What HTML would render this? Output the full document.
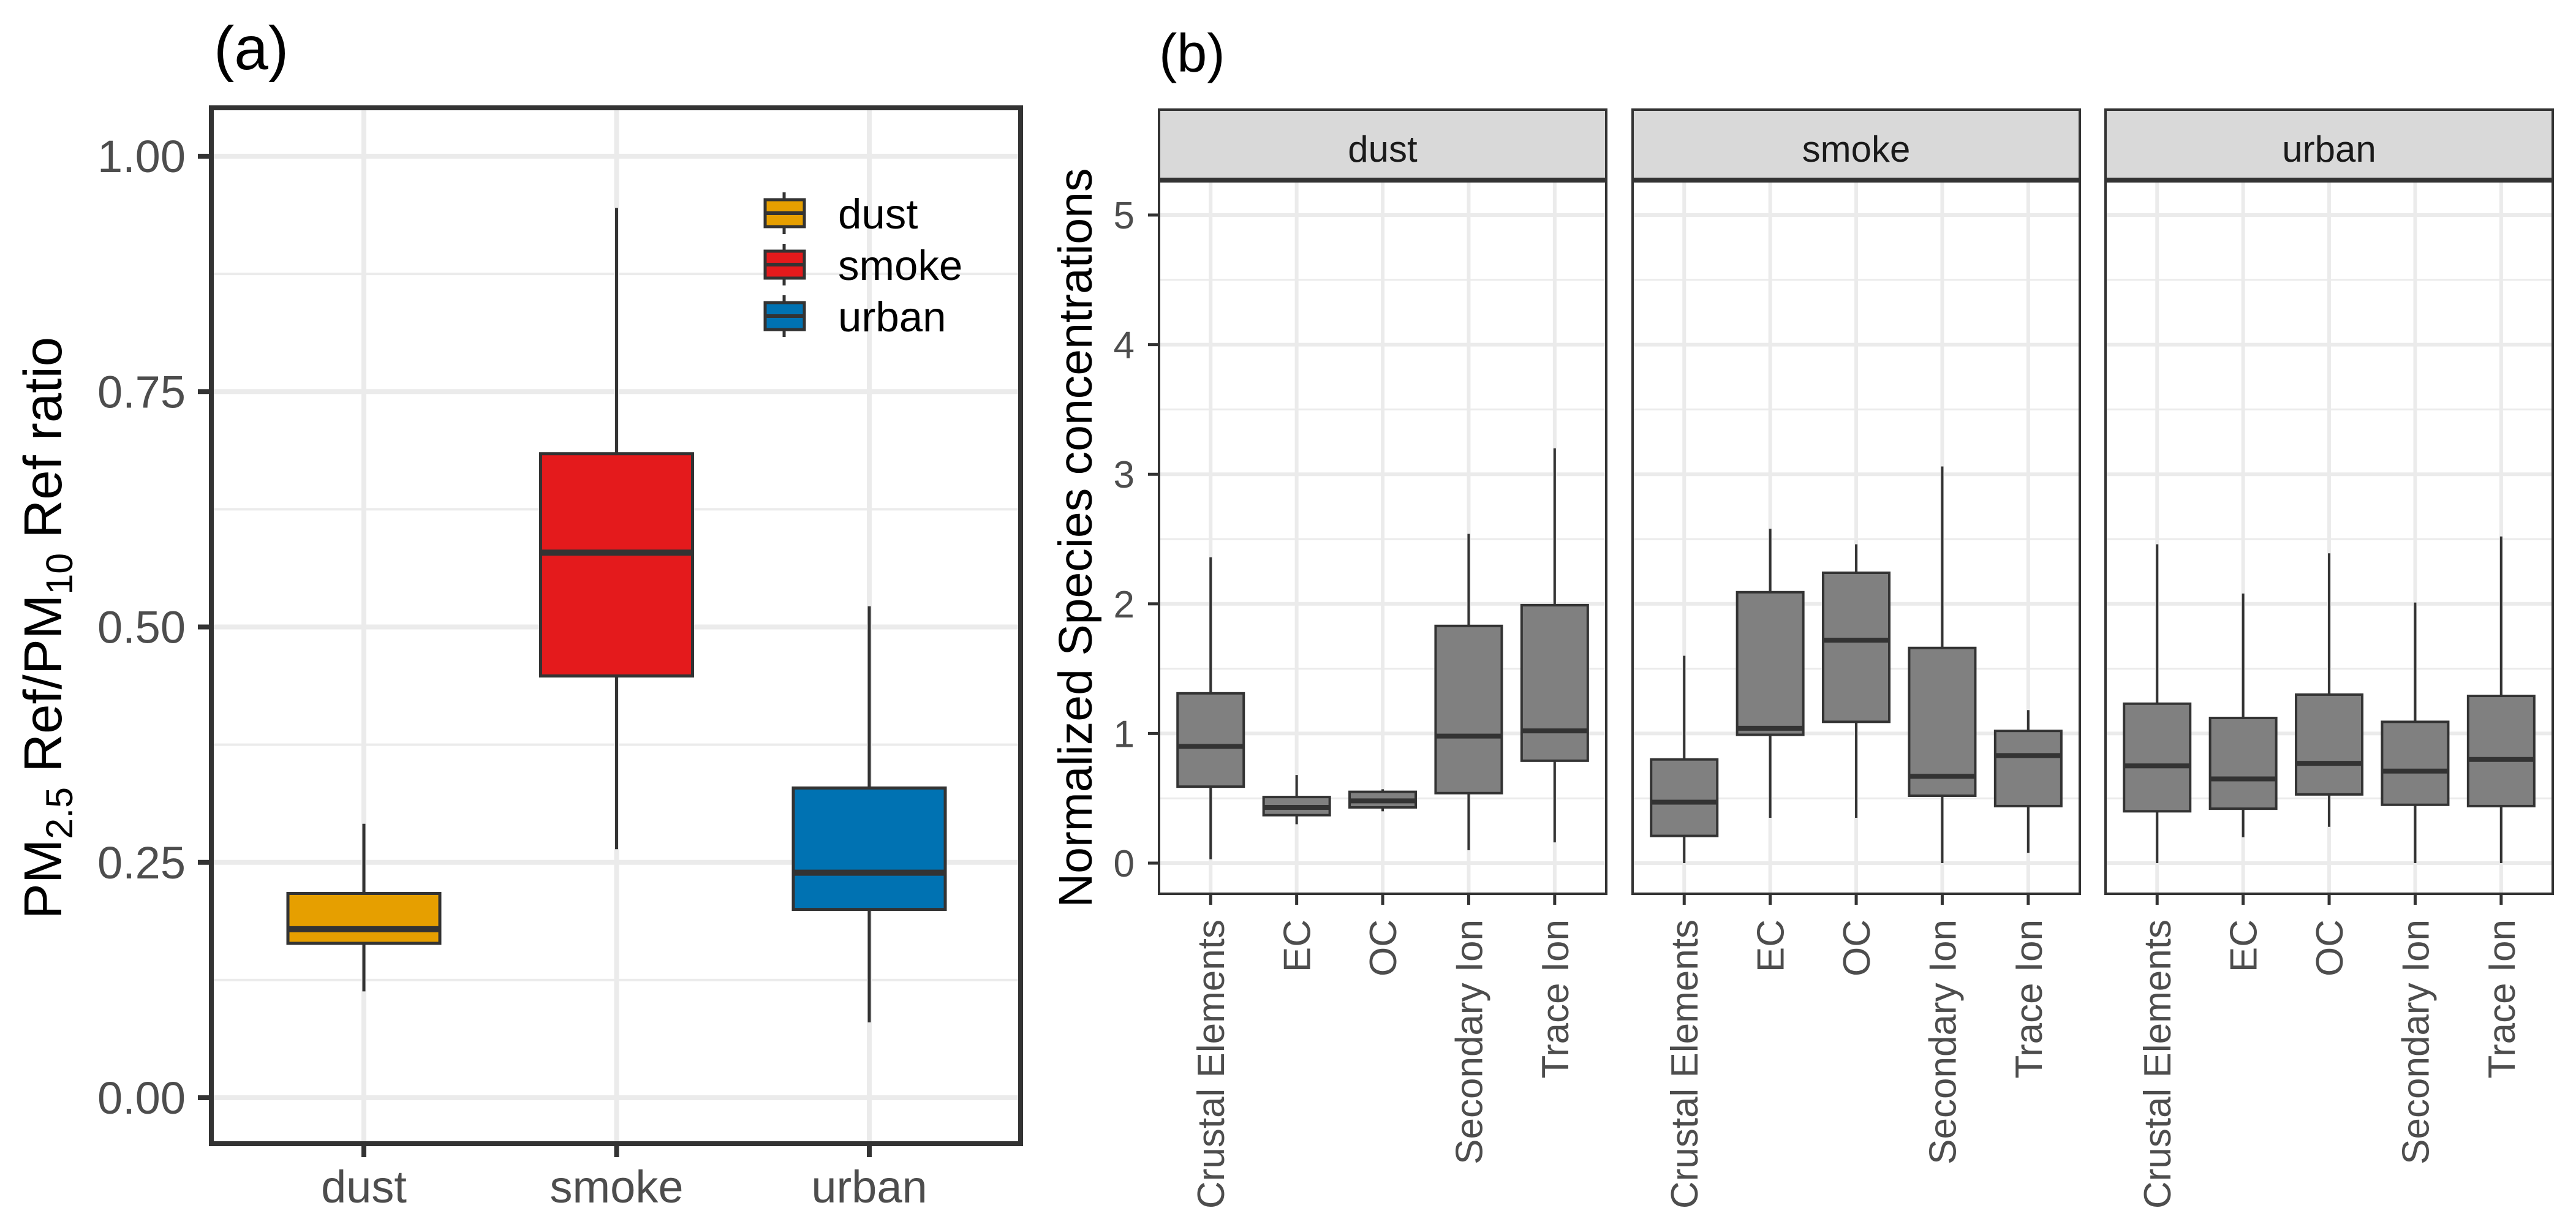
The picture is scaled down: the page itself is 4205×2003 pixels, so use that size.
<!DOCTYPE html>
<html><head><meta charset="utf-8"><style>
html,body{margin:0;padding:0;background:#fff;}
svg{display:block;font-family:"Liberation Sans",Arial,sans-serif;}
</style></head><body>
<svg id="fig" width="4205" height="2003" viewBox="0 0 4205 2003" xmlns="http://www.w3.org/2000/svg">
<rect width="4205" height="2003" fill="#fff"/>
<g id="pa"></g>
<g id="pb"></g>
</svg>
<script>
// ---- Panel (a) data ----
const aCats = ["dust","smoke","urban"];
const aColors = ["#E69F00","#E41A1C","#0072B2"];
const aLow = [0.113, 0.264, 0.080];
const aQ1 = [0.164, 0.448, 0.200];
const aMed = [0.179, 0.579, 0.239];
const aQ3 = [0.217, 0.684, 0.329];
const aHigh = [0.291, 0.945, 0.522];
const aTicks = [0, 0.25, 0.5, 0.75, 1.0];
const aTickLabels = ["0.00","0.25","0.50","0.75","1.00"];

// ---- Panel (b) data ----
const bFacets = ["dust","smoke","urban"];
const bCats = ["Crustal Elements","EC","OC","Secondary Ion","Trace Ion"];
const bLow = [[0.03,0.30,0.40,0.10,0.16],[0.0,0.35,0.35,0.0,0.08],[0.0,0.20,0.28,0.0,0.0]];
const bQ1 = [[0.59,0.37,0.43,0.54,0.79],[0.21,0.99,1.09,0.52,0.44],[0.40,0.42,0.53,0.45,0.44]];
const bMed = [[0.90,0.43,0.48,0.98,1.02],[0.47,1.04,1.72,0.67,0.83],[0.75,0.65,0.77,0.71,0.80]];
const bQ3 = [[1.31,0.51,0.55,1.83,1.99],[0.80,2.09,2.24,1.66,1.02],[1.23,1.12,1.30,1.09,1.29]];
const bHigh = [[2.36,0.68,0.57,2.54,3.20],[1.60,2.58,2.46,3.06,1.18],[2.46,2.08,2.39,2.01,2.52]];
const bTicks = [0,1,2,3,4,5];
const bTickLabels = ["0","1","2","3","4","5"];

const NS="http://www.w3.org/2000/svg";
function mk(parent, tag, attrs, text){
  const e=document.createElementNS(NS,tag);
  for(const k in attrs) e.setAttribute(k,attrs[k]);
  if(text!==undefined) e.textContent=text;
  parent.appendChild(e); return e;
}

// ===== Panel (a) =====
const pa=document.getElementById('pa');
const aL=345,aR=1666,aT=176,aB=1867;
const aY=v=>1792-v*1537;
const aX=i=>594+i*412.5;
const aHW=124;
let t=mk(pa,'text',{x:349,y:113,'font-size':100,fill:'#000'},'(a)');


// minor grid
for(let i=0;i<aTicks.length-1;i++){
  const v=(aTicks[i]+aTicks[i+1])/2;
  const l=mk(pa,'line',{x1:aL,x2:aR,y1:aY(v),y2:aY(v),stroke:'#ebebeb','stroke-width':4});
  
  
}
aTicks.forEach((v,i)=>{
  const l=mk(pa,'line',{x1:aL,x2:aR,y1:aY(v),y2:aY(v),stroke:'#ebebeb','stroke-width':8});
  
  
  const tk=mk(pa,'line',{x1:aL-22,x2:aL,y1:aY(v),y2:aY(v),stroke:'#333','stroke-width':8});
  
  
  const tl=mk(pa,'text',{x:303,y:aY(v)+26,'font-size':74,fill:'#4d4d4d','text-anchor':'end'},aTickLabels[i]);
  
  
});
aCats.forEach((c,i)=>{
  const l=mk(pa,'line',{x1:aX(i),x2:aX(i),y1:aT,y2:aB,stroke:'#ebebeb','stroke-width':8});
  
  
});
aCats.forEach((c,i)=>{
  const x=aX(i);
  const w=mk(pa,'line',{x1:x,x2:x,y1:aY(aLow[i]),y2:aY(aHigh[i]),stroke:'#333','stroke-width':5});
  
  
  const b=mk(pa,'rect',{x:x-aHW,y:aY(aQ3[i]),width:2*aHW,height:aY(aQ1[i])-aY(aQ3[i]),fill:aColors[i],stroke:'#333','stroke-width':5});
  
  
  const m=mk(pa,'line',{x1:x-aHW,x2:x+aHW,y1:aY(aMed[i]),y2:aY(aMed[i]),stroke:'#333','stroke-width':10});
  
  
  const tk=mk(pa,'line',{x1:x,x2:x,y1:aB,y2:aB+22,stroke:'#333','stroke-width':8});
  
  
  const tl=mk(pa,'text',{x:x,y:1963,'font-size':74,fill:'#4d4d4d','text-anchor':'middle'},c);
  
  
});
let fr=mk(pa,'rect',{x:aL,y:aT,width:aR-aL,height:aB-aT,fill:'none',stroke:'#333','stroke-width':8});


// legend
aCats.forEach((c,i)=>{
  const cy=348+i*84;
  const g=mk(pa,'g',{});
  
  
  mk(g,'line',{x1:1280,x2:1280,y1:cy-34,y2:cy+34,stroke:'#333','stroke-width':5});
  mk(g,'rect',{x:1249,y:cy-22,width:64,height:44,fill:aColors[i],stroke:'#333','stroke-width':5});
  mk(g,'line',{x1:1249,x2:1313,y1:cy,y2:cy,stroke:'#333','stroke-width':6});
  mk(g,'text',{x:1368,y:cy+25,'font-size':69,fill:'#000'},c);
});
// y title
t=mk(pa,'text',{transform:'translate(100,1025) rotate(-90)','font-size':87,fill:'#000','text-anchor':'middle'});


t.innerHTML='PM<tspan font-size="61" dy="18">2.5</tspan><tspan dy="-18"> Ref/PM</tspan><tspan font-size="61" dy="18">10</tspan><tspan dy="-18"> Ref ratio</tspan>';

// ===== Panel (b) =====
const pb=document.getElementById('pb');
const bLefts=[1892,2665,3437];
const bW=730, bT=296, bB=1459, sT=179;
const bY=v=>1409-v*211.6;
const bSp=140.4, bHW=54;
t=mk(pb,'text',{x:1892,y:117,'font-size':88,fill:'#000'},'(b)');


t=mk(pb,'text',{transform:'translate(1782,878) rotate(-90)','font-size':77,fill:'#000','text-anchor':'middle'},'Normalized Species concentrations');


bTicks.forEach((v,i)=>{
  const tk=mk(pb,'line',{x1:1892-18,x2:1892,y1:bY(v),y2:bY(v),stroke:'#333','stroke-width':5});
  
  
  const tl=mk(pb,'text',{x:1852,y:bY(v)+22,'font-size':62,fill:'#4d4d4d','text-anchor':'end'},bTickLabels[i]);
  
  
});
bFacets.forEach((f,fi)=>{
  const L=bLefts[fi];
  const g=mk(pb,'g',{});
  
  
  const bx=i=>L+bSp*0.6+i*bSp;
  for(let i=0;i<bTicks.length-1;i++){
    const v=(bTicks[i]+bTicks[i+1])/2;
    const l=mk(g,'line',{x1:L,x2:L+bW,y1:bY(v),y2:bY(v),stroke:'#ebebeb','stroke-width':3});
    
    
  }
  bTicks.forEach(v=>{
    const l=mk(g,'line',{x1:L,x2:L+bW,y1:bY(v),y2:bY(v),stroke:'#ebebeb','stroke-width':6});
    
    
  });
  bCats.forEach((c,i)=>{
    const l=mk(g,'line',{x1:bx(i),x2:bx(i),y1:bT,y2:bB,stroke:'#ebebeb','stroke-width':6});
    
    
  });
  bCats.forEach((c,i)=>{
    const x=bx(i);
    const w=mk(g,'line',{x1:x,x2:x,y1:bY(bLow[fi][i]),y2:bY(bHigh[fi][i]),stroke:'#333','stroke-width':4});
    
    
    const b=mk(g,'rect',{x:x-bHW,y:bY(bQ3[fi][i]),width:2*bHW,height:bY(bQ1[fi][i])-bY(bQ3[fi][i]),fill:'#808080',stroke:'#333','stroke-width':4});
    
    
    const m=mk(g,'line',{x1:x-bHW,x2:x+bHW,y1:bY(bMed[fi][i]),y2:bY(bMed[fi][i]),stroke:'#333','stroke-width':8});
    
    
    const tk=mk(g,'line',{x1:x,x2:x,y1:bB,y2:bB+18,stroke:'#333','stroke-width':5});
    
    
    const tl=mk(g,'text',{transform:`translate(${x+22},1501) rotate(-90)`,'font-size':62,fill:'#4d4d4d','text-anchor':'end'},c);
    
    
  });
  const fr2=mk(g,'rect',{x:L,y:bT,width:bW,height:bB-bT,fill:'none',stroke:'#333','stroke-width':4});
  
  
  const st=mk(g,'rect',{x:L,y:sT,width:bW,height:bT-sT-4,fill:'#d9d9d9',stroke:'#333','stroke-width':4});
  
  
  const stt=mk(g,'text',{x:L+bW/2,y:264,'font-size':60,fill:'#1a1a1a','text-anchor':'middle'},f);
  
  
});
</script>
</body></html>
